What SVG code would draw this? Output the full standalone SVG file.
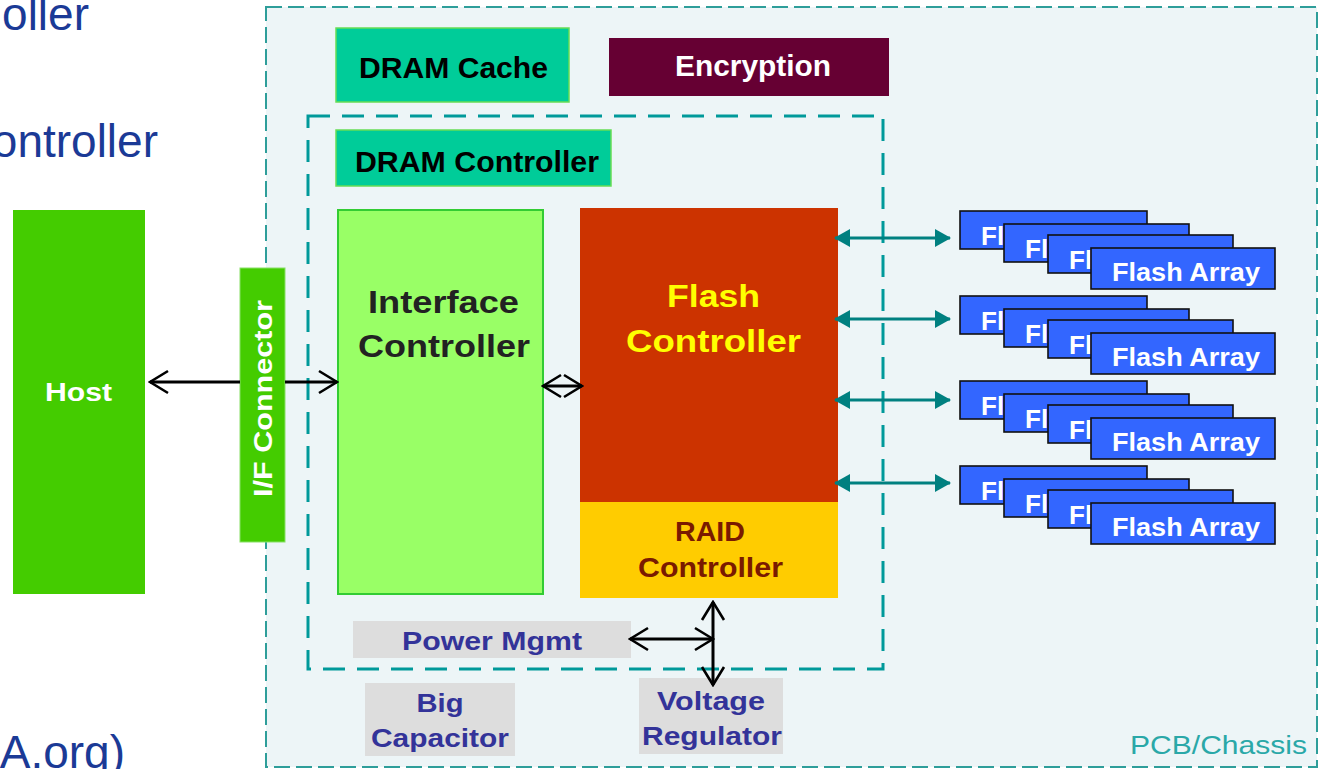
<svg xmlns="http://www.w3.org/2000/svg" width="1323" height="769" viewBox="0 0 1323 769">
<defs>
<style>
text{font-family:"Liberation Sans",Arial,sans-serif}
.b{font-weight:bold}
.slide{fill:#1b3a96;font-size:46px}
.fa rect{fill:#3366ff;stroke:#111;stroke-width:1.6}
.fa text{fill:#fff;font-weight:bold;font-size:26px}
.gray{fill:#dddddd}
.pm{fill:#333399;font-weight:bold;font-size:26px;text-anchor:middle}
.blk{stroke:#000;stroke-width:3;fill:none}
.teal{stroke:#008080;stroke-width:3;fill:none}
</style>
<marker id="open" markerUnits="userSpaceOnUse" markerWidth="22" markerHeight="26" viewBox="0 0 22 26" refX="20" refY="13" orient="auto-start-reverse">
<path d="M2,2 L20,13 L2,24" fill="none" stroke="#000" stroke-width="2.6"/>
</marker>
<marker id="tri" markerUnits="userSpaceOnUse" markerWidth="16" markerHeight="18" viewBox="0 0 16 18" refX="15" refY="9" orient="auto-start-reverse">
<path d="M0,0 L16,9 L0,18 Z" fill="#008080"/>
</marker>
</defs>
<rect width="1323" height="769" fill="#fff"/>
<g id="slide-text">
<text class="slide" x="89" y="30" text-anchor="end">oller</text>
<text class="slide" x="158" y="157" text-anchor="end">ontroller</text>
<text class="slide" x="125" y="768" text-anchor="end">A.org)</text>
</g>
<g id="pcb">
<rect x="266" y="7" width="1051" height="760" fill="#edf5f7" stroke="#2e9e9a" stroke-width="2" stroke-dasharray="16,6"/>
<text x="1130" y="754" font-size="26" fill="#2aa8a8" textLength="177" lengthAdjust="spacingAndGlyphs">PCB/Chassis</text>
</g>
<g id="controller-boundary">
<rect x="308" y="116" width="575" height="553" fill="none" stroke="#00999a" stroke-width="3" stroke-dasharray="22,12"/>
</g>
<g id="dram-cache">
<rect x="336" y="28" width="233" height="74" fill="#00cc99" stroke="#66dd55" stroke-width="1.5"/>
<text class="b" x="359" y="78" font-size="29" fill="#000" textLength="189" lengthAdjust="spacingAndGlyphs">DRAM Cache</text>
</g>
<g id="encryption">
<rect x="609" y="38" width="280" height="58" fill="#660033"/>
<text class="b" x="675" y="76" font-size="29" fill="#fff" textLength="156" lengthAdjust="spacingAndGlyphs">Encryption</text>
</g>
<g id="dram-controller">
<rect x="336" y="130" width="275" height="56" fill="#00cc99" stroke="#66dd55" stroke-width="1.5"/>
<text class="b" x="355" y="172" font-size="29" fill="#000" textLength="244" lengthAdjust="spacingAndGlyphs">DRAM Controller</text>
</g>
<g id="host">
<rect x="13" y="210" width="132" height="384" fill="#44cc00"/>
<text class="b" x="45" y="401" font-size="26" fill="#fff" textLength="67" lengthAdjust="spacingAndGlyphs">Host</text>
</g>
<g id="if-connector">
<rect x="240" y="268" width="45" height="274" fill="#44cc00" stroke="#88e066" stroke-width="1"/>
<text class="b" transform="translate(272,497) rotate(-90)" font-size="26" fill="#fff" textLength="197" lengthAdjust="spacingAndGlyphs">I/F Connector</text>
</g>
<g id="interface-controller">
<rect x="338" y="210" width="205" height="384" fill="#99ff66" stroke="#33cc33" stroke-width="2"/>
<text class="b" x="368" y="313" font-size="31" fill="#222" textLength="151" lengthAdjust="spacingAndGlyphs">Interface</text>
<text class="b" x="358" y="357" font-size="31" fill="#222" textLength="172" lengthAdjust="spacingAndGlyphs">Controller</text>
</g>
<g id="flash-controller">
<rect x="580" y="208" width="258" height="295" fill="#cc3300"/>
<text class="b" x="667" y="307" font-size="32" fill="#ffff00" textLength="93" lengthAdjust="spacingAndGlyphs">Flash</text>
<text class="b" x="626" y="352" font-size="32" fill="#ffff00" textLength="175" lengthAdjust="spacingAndGlyphs">Controller</text>
</g>
<g id="raid-controller">
<rect x="580" y="502" width="258" height="96" fill="#ffcc00"/>
<text class="b" x="675" y="541" font-size="27" fill="#7a1a00" textLength="70" lengthAdjust="spacingAndGlyphs">RAID</text>
<text class="b" x="638" y="577" font-size="27" fill="#7a1a00" textLength="145" lengthAdjust="spacingAndGlyphs">Controller</text>
</g>
<g id="power-mgmt">
<rect class="gray" x="353" y="621" width="278" height="37"/>
<text class="pm" x="492" y="650" textLength="180" lengthAdjust="spacingAndGlyphs">Power Mgmt</text>
</g>
<g id="big-capacitor">
<rect class="gray" x="365" y="683" width="150" height="73"/>
<text class="pm" x="440" y="712" textLength="47" lengthAdjust="spacingAndGlyphs">Big</text>
<text class="pm" x="440" y="747" textLength="138" lengthAdjust="spacingAndGlyphs">Capacitor</text>
</g>
<g id="voltage-regulator">
<rect class="gray" x="639" y="678" width="144" height="76"/>
<text class="pm" x="711" y="710" textLength="108" lengthAdjust="spacingAndGlyphs">Voltage</text>
<text class="pm" x="712" y="745" textLength="140" lengthAdjust="spacingAndGlyphs">Regulator</text>
</g>
<g id="flash-array-1" class="fa" transform="translate(0,211)">
<rect x="960" y="0" width="187" height="38"/><text x="981" y="34">Fl</text>
<rect x="1004" y="13" width="185" height="38"/><text x="1025" y="47">Fl</text>
<rect x="1048" y="24" width="185" height="38"/><text x="1069" y="58">Fl</text>
<rect x="1091" y="37" width="184" height="41"/><text x="1112" y="70" textLength="148" lengthAdjust="spacingAndGlyphs">Flash Array</text>
</g>
<g id="flash-array-2" class="fa" transform="translate(0,296)">
<rect x="960" y="0" width="187" height="38"/><text x="981" y="34">Fl</text>
<rect x="1004" y="13" width="185" height="38"/><text x="1025" y="47">Fl</text>
<rect x="1048" y="24" width="185" height="38"/><text x="1069" y="58">Fl</text>
<rect x="1091" y="37" width="184" height="41"/><text x="1112" y="70" textLength="148" lengthAdjust="spacingAndGlyphs">Flash Array</text>
</g>
<g id="flash-array-3" class="fa" transform="translate(0,381)">
<rect x="960" y="0" width="187" height="38"/><text x="981" y="34">Fl</text>
<rect x="1004" y="13" width="185" height="38"/><text x="1025" y="47">Fl</text>
<rect x="1048" y="24" width="185" height="38"/><text x="1069" y="58">Fl</text>
<rect x="1091" y="37" width="184" height="41"/><text x="1112" y="70" textLength="148" lengthAdjust="spacingAndGlyphs">Flash Array</text>
</g>
<g id="flash-array-4" class="fa" transform="translate(0,466)">
<rect x="960" y="0" width="187" height="38"/><text x="981" y="34">Fl</text>
<rect x="1004" y="13" width="185" height="38"/><text x="1025" y="47">Fl</text>
<rect x="1048" y="24" width="185" height="38"/><text x="1069" y="58">Fl</text>
<rect x="1091" y="37" width="184" height="41"/><text x="1112" y="70" textLength="148" lengthAdjust="spacingAndGlyphs">Flash Array</text>
</g>
<g id="connectors">
<line class="blk" x1="150" y1="382" x2="240" y2="382" marker-start="url(#open)"/>
<line class="blk" x1="285" y1="382" x2="337" y2="382" marker-end="url(#open)"/>
<line class="blk" x1="543" y1="386" x2="582" y2="386" marker-start="url(#open)" marker-end="url(#open)"/>
<line class="blk" x1="630" y1="639" x2="713" y2="639" marker-start="url(#open)" marker-end="url(#open)"/>
<line class="blk" x1="713" y1="602" x2="713" y2="685" marker-start="url(#open)" marker-end="url(#open)"/>
<line class="teal" x1="835" y1="238" x2="950" y2="238" marker-start="url(#tri)" marker-end="url(#tri)"/>
<line class="teal" x1="835" y1="319" x2="950" y2="319" marker-start="url(#tri)" marker-end="url(#tri)"/>
<line class="teal" x1="835" y1="400" x2="950" y2="400" marker-start="url(#tri)" marker-end="url(#tri)"/>
<line class="teal" x1="835" y1="483" x2="950" y2="483" marker-start="url(#tri)" marker-end="url(#tri)"/>
</g>
</svg>
